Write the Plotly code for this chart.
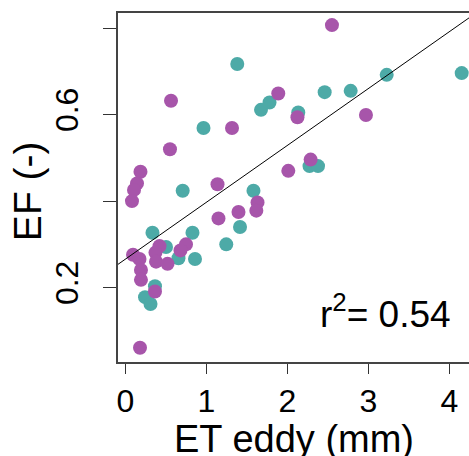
import plotly.graph_objects as go

# Teal series
teal_x = [1.380, 0.963, 0.706, 1.673, 1.778, 2.133, 2.459, 2.780, 3.225, 4.151,
          2.272, 2.377, 1.580, 1.414, 1.244, 0.858, 0.333, 0.827, 0.500, 0.654,
          0.364, 0.241, 0.309]
teal_y = [0.717, 0.569, 0.424, 0.611, 0.628, 0.605, 0.652, 0.655, 0.692, 0.696,
          0.481, 0.481, 0.424, 0.340, 0.300, 0.266, 0.327, 0.327, 0.294, 0.268,
          0.203, 0.178, 0.162]

# Purple series
purple_x = [2.549, 1.886, 2.123, 2.969, 1.315, 0.562, 0.549, 0.185, 0.142, 0.105,
            0.080, 1.136, 2.010, 2.286, 1.630, 1.615, 1.395, 1.148, 0.747, 0.679,
            0.420, 0.370, 0.377, 0.519, 0.093, 0.173, 0.191, 0.191, 0.364, 0.179]
purple_y = [0.807, 0.649, 0.594, 0.599, 0.569, 0.632, 0.520, 0.468, 0.441, 0.426,
            0.400, 0.439, 0.470, 0.496, 0.397, 0.378, 0.375, 0.360, 0.300, 0.286,
            0.296, 0.281, 0.260, 0.255, 0.276, 0.266, 0.241, 0.218, 0.191, 0.061]

# Regression line (coefficients)
fit_intercept = 0.266
fit_slope = 0.1315
line_x = [-0.2, 4.4]
line_y = [fit_intercept + fit_slope * v for v in line_x]

x_ticks = [0, 1, 2, 3, 4]
y_label_ticks = [0.2, 0.6]
y_minor_ticks = [0.4, 0.8]

TEAL = "#4DAAA7"
PURPLE = "#A755AA"
FONT = "Liberation Sans, Arial, sans-serif"

fig = go.Figure()
fig.add_trace(go.Scatter(x=teal_x, y=teal_y, mode="markers",
                         marker=dict(color=TEAL, size=14, line=dict(width=0)),
                         showlegend=False))
fig.add_trace(go.Scatter(x=purple_x, y=purple_y, mode="markers",
                         marker=dict(color=PURPLE, size=14, line=dict(width=0)),
                         showlegend=False))
fig.add_trace(go.Scatter(x=line_x, y=line_y, mode="lines",
                         line=dict(color="black", width=1), showlegend=False))

fig.update_layout(
    width=469, height=456,
    margin=dict(l=118, r=0, t=13, b=94),
    plot_bgcolor="white", paper_bgcolor="white",
    font=dict(family=FONT, color="black"),
    xaxis=dict(range=[-0.0926, 4.241], tickvals=x_ticks, ticks="outside",
               ticklen=10, tickwidth=1.3, tickcolor="#333",
               showline=True, linecolor="#444", linewidth=1.5, mirror=True,
               showgrid=False, zeroline=False,
               tickfont=dict(size=32, family=FONT)),
    yaxis=dict(range=[0.028, 0.835], tickmode="array", tickvals=y_label_ticks,
               ticks="outside", ticklen=13, tickwidth=1.3, tickcolor="#333",
               minor=dict(tickmode="array", tickvals=y_minor_ticks, ticks="outside",
                          ticklen=13, tickwidth=1.3, tickcolor="#333", showgrid=False),
               tickangle=-90, ticklabelstandoff=12,
               showline=True, linecolor="#444", linewidth=1.5, mirror=False,
               showgrid=False, zeroline=False,
               tickfont=dict(size=32, family=FONT)),
    annotations=[
        dict(text="r<sup>2</sup>= 0.54", xref="paper", yref="paper",
             x=0.954, y=0.145, xanchor="right", yanchor="middle",
             showarrow=False, font=dict(size=37, family=FONT)),
        dict(text="EF (-)", xref="paper", yref="paper",
             x=-0.256, y=0.49, xanchor="center", yanchor="middle",
             textangle=-90, showarrow=False, font=dict(size=39, family=FONT)),
        dict(text="ET eddy (mm)", xref="paper", yref="paper",
             x=0.501, y=-0.22, xanchor="center", yanchor="middle",
             showarrow=False, font=dict(size=38, family=FONT)),
    ],
)

fig.write_html("out.html", config={"displayModeBar": False},
               post_script="document.body.style.margin='0';document.body.style.padding='0';")
